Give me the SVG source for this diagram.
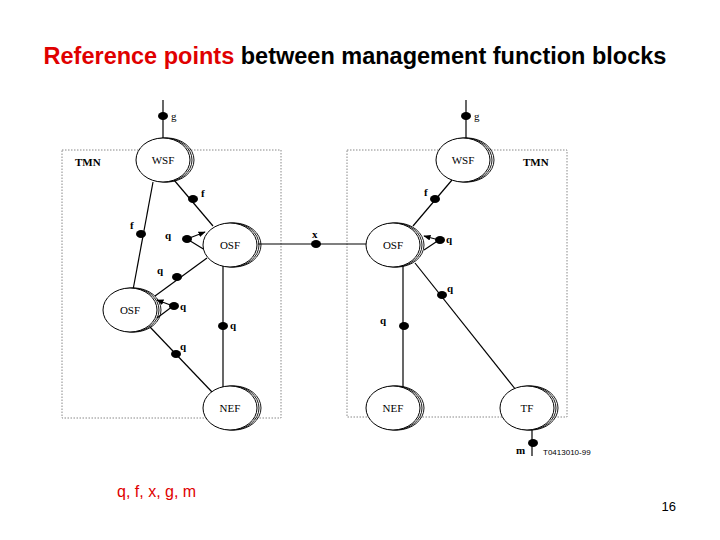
<svg xmlns="http://www.w3.org/2000/svg" width="720" height="540" viewBox="0 0 720 540">
<defs>
<style>
.t{font-family:"Liberation Serif",serif;font-size:11px;fill:#000}
.b{font-weight:bold}
.ln{stroke:#000;stroke-width:1.2;fill:none}
.box{stroke:#888;stroke-width:1;stroke-dasharray:1.5,1.5;fill:none}
.dot{fill:#000}
.bk{fill:none;stroke:#000;stroke-width:0.9}
.fr{fill:#fff;stroke:#000;stroke-width:1}
</style>
<marker id="ah" viewBox="0 0 10 10" refX="9" refY="5" markerWidth="6" markerHeight="6" orient="auto"><path d="M0,1 L10,5 L0,9 z" fill="#000"/></marker>
</defs>
<rect width="720" height="540" fill="#fff"/>
<text x="355" y="64" text-anchor="middle" font-family="Liberation Sans,Arial,sans-serif" font-size="23.5" font-weight="bold"><tspan fill="#e00000">Reference points</tspan> between management function blocks</text>
<rect class="box" x="62" y="150" width="219" height="268"/>
<rect class="box" x="347" y="150" width="220" height="267"/>
<g id="connectors">
<line class="ln" x1="163" y1="100" x2="163" y2="138"/>
<line class="ln" x1="466" y1="100" x2="466" y2="138"/>
<line class="ln" x1="174" y1="180" x2="213" y2="226"/>
<line class="ln" x1="153" y1="182" x2="133" y2="290"/>
<line class="ln" x1="207" y1="258" x2="155" y2="296"/>
<line class="ln" x1="150" y1="327" x2="212" y2="392"/>
<line class="ln" x1="223" y1="266" x2="223" y2="388"/>
<line class="ln" x1="187" y1="239" x2="205" y2="232" marker-end="url(#ah)"/>
<line class="ln" x1="187" y1="239" x2="205" y2="250"/>
<line class="ln" x1="173" y1="306" x2="157" y2="300" marker-end="url(#ah)"/>
<line class="ln" x1="173" y1="306" x2="157" y2="318"/>
<line class="ln" x1="258" y1="244" x2="367" y2="244"/>
<line class="ln" x1="452" y1="180" x2="413" y2="226"/>
<line class="ln" x1="439" y1="240" x2="424" y2="236" marker-end="url(#ah)"/>
<line class="ln" x1="439" y1="240" x2="424" y2="250"/>
<line class="ln" x1="403" y1="265" x2="403" y2="388"/>
<line class="ln" x1="415" y1="263" x2="516" y2="390"/>
<line class="ln" x1="532" y1="428" x2="532" y2="456"/>
<g class="dot">
<ellipse cx="163" cy="116" rx="5" ry="4"/><ellipse cx="466" cy="116" rx="5" ry="4"/>
<ellipse cx="193" cy="199" rx="5" ry="4"/><ellipse cx="141" cy="234" rx="5" ry="4"/>
<ellipse cx="177" cy="277" rx="5" ry="4"/><ellipse cx="176" cy="354" rx="5" ry="4"/>
<ellipse cx="223" cy="326" rx="5" ry="4"/><ellipse cx="187" cy="239" rx="5" ry="4"/>
<ellipse cx="174" cy="306" rx="5" ry="4"/><ellipse cx="316" cy="244" rx="5" ry="4"/>
<ellipse cx="435" cy="199" rx="5" ry="4"/><ellipse cx="440" cy="240" rx="5" ry="4"/>
<ellipse cx="404" cy="326" rx="5" ry="4"/><ellipse cx="442" cy="295" rx="5" ry="4"/>
<ellipse cx="533" cy="443" rx="5" ry="4"/>
</g>
<g class="t">
<text x="171" y="120">g</text><text x="474" y="120">g</text>
<text x="201" y="197" class="b">f</text><text x="130" y="229" class="b">f</text>
<text x="157" y="274" class="b">q</text><text x="180" y="350" class="b">q</text>
<text x="230" y="329" class="b">q</text><text x="165" y="239" class="b">q</text>
<text x="180" y="310" class="b">q</text><text x="312" y="238" class="b">x</text>
<text x="424" y="196" class="b">f</text><text x="446" y="243" class="b">q</text>
<text x="380" y="324" class="b">q</text><text x="447" y="292" class="b">q</text>
<text x="516" y="454" class="b">m</text>
</g>
</g>
<g id="wsf1"><ellipse class="bk" cx="167" cy="160" rx="27" ry="22"/><ellipse class="bk" cx="165" cy="160" rx="27" ry="22"/><ellipse class="fr" cx="163" cy="160" rx="27" ry="22"/><text class="t" x="163" y="164" text-anchor="middle">WSF</text></g>
<g id="osf1"><ellipse class="bk" cx="234" cy="245" rx="27" ry="22"/><ellipse class="bk" cx="232" cy="245" rx="27" ry="22"/><ellipse class="fr" cx="230" cy="245" rx="27" ry="22"/><text class="t" x="230" y="249" text-anchor="middle">OSF</text></g>
<g id="osf2"><ellipse class="bk" cx="134" cy="310" rx="27" ry="22"/><ellipse class="bk" cx="132" cy="310" rx="27" ry="22"/><ellipse class="fr" cx="130" cy="310" rx="27" ry="22"/><text class="t" x="130" y="314" text-anchor="middle">OSF</text></g>
<g id="nef1"><ellipse class="bk" cx="234" cy="408" rx="27" ry="22"/><ellipse class="bk" cx="232" cy="408" rx="27" ry="22"/><ellipse class="fr" cx="230" cy="408" rx="27" ry="22"/><text class="t" x="230" y="412" text-anchor="middle">NEF</text></g>
<g id="wsf2"><ellipse class="bk" cx="467" cy="160" rx="27" ry="22"/><ellipse class="bk" cx="465" cy="160" rx="27" ry="22"/><ellipse class="fr" cx="463" cy="160" rx="27" ry="22"/><text class="t" x="463" y="164" text-anchor="middle">WSF</text></g>
<g id="osf3"><ellipse class="bk" cx="397" cy="245" rx="27" ry="22"/><ellipse class="bk" cx="395" cy="245" rx="27" ry="22"/><ellipse class="fr" cx="393" cy="245" rx="27" ry="22"/><text class="t" x="393" y="249" text-anchor="middle">OSF</text></g>
<g id="nef2"><ellipse class="bk" cx="397" cy="408" rx="27" ry="22"/><ellipse class="bk" cx="395" cy="408" rx="27" ry="22"/><ellipse class="fr" cx="393" cy="408" rx="27" ry="22"/><text class="t" x="393" y="412" text-anchor="middle">NEF</text></g>
<g id="tf"><ellipse class="bk" cx="531" cy="408" rx="27" ry="22"/><ellipse class="bk" cx="529" cy="408" rx="27" ry="22"/><ellipse class="fr" cx="527" cy="408" rx="27" ry="22"/><text class="t" x="527" y="412" text-anchor="middle">TF</text></g>
<text class="t b" x="75" y="166">TMN</text>
<text class="t b" x="523" y="166">TMN</text>
<text x="543" y="455" font-family="Liberation Sans,sans-serif" font-size="8">T0413010-99</text>
<text x="117" y="497" font-family="Liberation Sans,Arial,sans-serif" font-size="16" fill="#e00000">q, f, x, g, m</text>
<text x="676" y="511" text-anchor="end" font-family="Liberation Sans,Arial,sans-serif" font-size="13">16</text>
</svg>
